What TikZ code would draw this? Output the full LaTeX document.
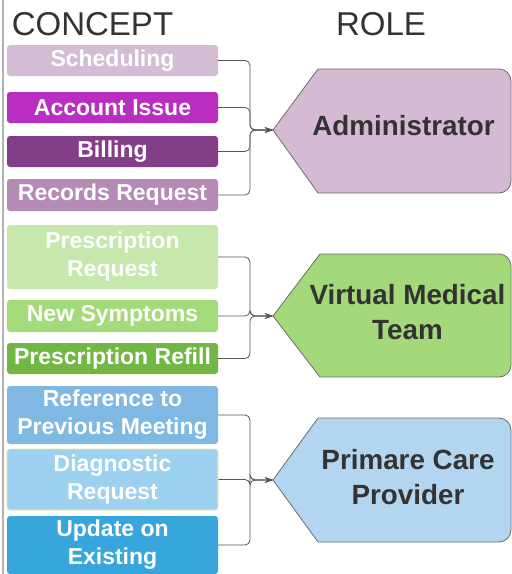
\documentclass[tikz,border=0pt]{standalone}
\usepackage{fontspec}
\setmainfont{Liberation Sans}
\usetikzlibrary{arrows.meta}
\definecolor{cSch}{HTML}{D5BCD5}
\definecolor{cAcc}{HTML}{B92EC1}
\definecolor{cBil}{HTML}{833E87}
\definecolor{cRec}{HTML}{B48BB5}
\definecolor{cPR}{HTML}{C7E8AC}
\definecolor{cNS}{HTML}{A4DB7A}
\definecolor{cRef}{HTML}{72B744}
\definecolor{cPM}{HTML}{80B8E4}
\definecolor{cDia}{HTML}{9CD2F0}
\definecolor{cDiaB}{HTML}{F4E39A}
\definecolor{cUpd}{HTML}{37A6DD}
\definecolor{rAdm}{HTML}{D4BAD3}
\definecolor{rVmt}{HTML}{A3D97A}
\definecolor{rPcp}{HTML}{B2D5F0}
\definecolor{txt}{HTML}{333333}
\definecolor{lineC}{HTML}{555555}
\begin{document}
\begin{tikzpicture}[x=1pt,y=-1pt,
  conceptbox/.style={rounded corners=3pt, minimum width=211pt, inner sep=0pt, text=white,
    font=\bfseries\fontsize{23}{28}\selectfont, align=center},
  header/.style={text=txt, font=\fontsize{33}{36}\selectfont, anchor=base, inner sep=0pt},
  roletext/.style={text=txt, font=\bfseries\fontsize{27.8}{35}\selectfont, align=center, inner sep=0pt},
  roleshape/.style={draw=gray!85!black, line width=0.8pt},
  conn/.style={draw=lineC, line width=0.8pt, rounded corners=5pt},
  arr/.style={conn, -{Stealth[length=8pt,width=5.5pt]}}]
\useasboundingbox (0,0) rectangle (512,574);
\fill[white] (0,0) rectangle (512,574);
\draw[gray!60, line width=1.6pt] (3,0) -- (3,574);

\node[header] (hconcept) at (92.5,35) {CONCEPT};
\node[header] (hrole) at (381,35) {ROLE};

% concept boxes
\node[conceptbox, fill=cSch, minimum height=31pt] (sch) at (112.5,60.5) {Scheduling};
\node[conceptbox, fill=cAcc, minimum height=31pt] (acc) at (112.5,107.5) {Account Issue};
\node[conceptbox, fill=cBil, minimum height=31pt] (bil) at (112.5,151.5) {Billing};
\node[conceptbox, fill=cRec, minimum height=32pt] (rec) at (112.5,195) {Records Request};

\node[conceptbox, fill=cPR, minimum height=64pt] (prq) at (112.5,257) {Prescription\\Request};
\node[conceptbox, fill=cNS, minimum height=32pt] (nsy) at (112.5,316) {New Symptoms};
\node[conceptbox, fill=cRef, minimum height=31pt] (prf) at (112.5,358.5) {Prescription Refill};

\node[conceptbox, fill=cPM, minimum height=58pt] (rpm) at (112.5,415) {Reference to\\Previous Meeting};
\node[conceptbox, fill=cDia, draw=cDiaB, line width=0.8pt, minimum height=61pt] (dia) at (112.5,479.5) {Diagnostic\\Request};
\node[conceptbox, fill=cUpd, minimum height=58pt] (upd) at (112.5,545) {Update on\\Existing};

% role shapes
\draw[roleshape, fill=rAdm] (273,130) -- (318,69) [rounded corners=12pt] -- (511,69) -- (511,193) [sharp corners] -- (318,193) -- cycle;
\draw[roleshape, fill=rVmt] (273,316) -- (320,254) [rounded corners=12pt] -- (511,254) -- (511,377) [sharp corners] -- (320,377) -- cycle;
\draw[roleshape, fill=rPcp] (273,480) -- (318,418) [rounded corners=12pt] -- (511,418) -- (511,542) [sharp corners] -- (318,542) -- cycle;

\coordinate (admtip) at (273,130);
\coordinate (vmttip) at (273,316);
\coordinate (pcptip) at (273,480);
\coordinate (bx) at (250,0);

\node[roletext] (adm) at (403.5,126) {Administrator};
\node[roletext] (vmt) at (407.5,312) {Virtual Medical\\Team};
\node[roletext] (pcp) at (408,477) {Primare Care\\Provider};

% connectors
\foreach \b in {sch,acc,bil,rec}
  \draw[arr] (\b.east) -- (\b.east -| bx) |- (admtip);
\foreach \b in {prq,nsy,prf}
  \draw[arr] (\b.east) -- (\b.east -| bx) |- (vmttip);
\foreach \b in {rpm,dia,upd}
  \draw[arr] (\b.east) -- (\b.east -| bx) |- (pcptip);
\end{tikzpicture}
\end{document}
